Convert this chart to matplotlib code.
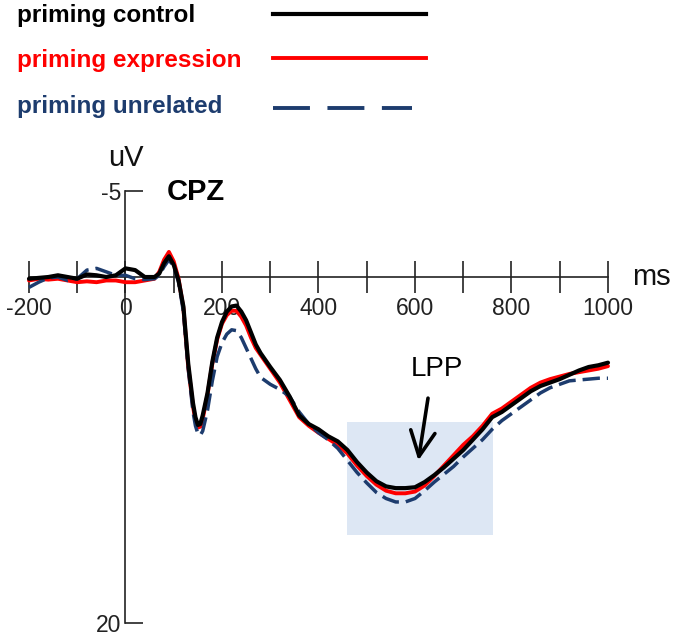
import matplotlib
matplotlib.use("Agg")
import matplotlib.pyplot as plt
from matplotlib.lines import Line2D
from matplotlib.patches import Rectangle

plt.rcParams['font.family'] = ['Liberation Sans', 'DejaVu Sans']

# time points (ms) and ERP amplitude (uV) at CPZ
waktu = [-200, -180, -160, -140, -120, -100, -80, -60, -40, -20, 0, 20, 40, 60, 70, 80, 90,
         100, 110, 120, 130, 140, 145, 150, 155, 160, 170, 180, 190, 200, 210, 220, 230, 240, 250,
         260, 270, 280, 290, 300, 320, 340, 360, 380, 400, 420, 440, 460, 480, 500, 520,
         540, 560, 580, 600, 620, 640, 660, 680, 700, 720, 740, 760, 780, 800, 820, 840,
         860, 880, 900, 920, 940, 960, 980, 1000]

control = [0.1, 0.05, 0.0, -0.1, 0.0, 0.1, -0.15, -0.1, 0.0, -0.1, -0.5, -0.4, 0.0, 0.0, -0.2, -0.8, -1.2,
           -0.7, 0.2, 1.7, 5.0, 7.3, 8.1, 8.55, 8.5, 8.0, 6.7, 4.9, 3.5, 2.6, 2.0, 1.7, 1.65, 2.0, 2.5,
           3.2, 3.9, 4.4, 4.8, 5.2, 5.95, 6.9, 8.0, 8.5, 8.8, 9.2, 9.5, 10.0, 10.7, 11.3, 11.8,
           12.1, 12.2, 12.2, 12.15, 11.85, 11.45, 11.0, 10.5, 10.0, 9.4, 8.8, 8.1, 7.8, 7.4, 7.0, 6.6,
           6.3, 6.1, 5.9, 5.65, 5.4, 5.2, 5.1, 4.95]

expression = [0.2, 0.1, 0.15, 0.1, 0.2, 0.3, 0.25, 0.3, 0.2, 0.2, 0.3, 0.3, 0.2, 0.1, -0.3, -1.0, -1.45,
              -0.9, 0.1, 1.8, 5.2, 7.5, 8.3, 8.7, 8.65, 8.2, 6.8, 5.0, 3.6, 2.7, 2.2, 1.95, 1.95, 2.3, 2.8,
              3.5, 4.1, 4.5, 4.9, 5.3, 6.1, 7.1, 8.1, 8.6, 9.0, 9.35, 9.7, 10.2, 10.9, 11.5, 12.0,
              12.35, 12.5, 12.5, 12.4, 12.05, 11.5, 10.9, 10.3, 9.7, 9.2, 8.6, 7.9, 7.6, 7.2, 6.8, 6.4,
              6.1, 5.9, 5.75, 5.6, 5.5, 5.4, 5.3, 5.15]

unrelated = [0.6, 0.3, 0.05, 0.0, 0.2, 0.1, -0.4, -0.5, -0.3, -0.1, -0.1, 0.1, 0.15, 0.1, -0.1, -0.6, -1.0,
             -0.6, 0.3, 2.0, 5.3, 7.8, 8.6, 9.05, 9.15, 8.9, 7.7, 6.0, 4.6, 3.8, 3.3, 3.05, 3.1, 3.5, 4.1,
             4.7, 5.3, 5.8, 6.0, 6.2, 6.5, 6.9, 7.8, 8.5, 9.0, 9.4, 9.9, 10.6, 11.3, 11.9, 12.45,
             12.8, 13.0, 13.0, 12.8, 12.35, 11.85, 11.4, 10.95, 10.4, 9.9, 9.4, 8.8, 8.3, 7.9, 7.5, 7.1,
             6.7, 6.4, 6.2, 6.0, 5.95, 5.9, 5.85, 5.85]

label_kondisi = ["priming control", "priming expression", "priming unrelated"]
warna = ["#000000", "#ff0000", "#1d3c6e"]

# LPP window (ms) and its amplitude range (uV)
lpp_waktu = [459, 762]
lpp_uv = [8.4, 14.9]

xticks = list(range(-200, 1001, 100))
xticklabels = [str(t) if t % 200 == 0 else "" for t in xticks]

fig = plt.figure(figsize=(6.75, 6.39), dpi=100)
ax = fig.add_axes([0, 0, 1, 1])
ax.patch.set_alpha(0)

# shaded LPP window
ax.add_patch(Rectangle((lpp_waktu[0], lpp_uv[0]), lpp_waktu[1] - lpp_waktu[0], lpp_uv[1] - lpp_uv[0],
                       facecolor="#dde7f4", edgecolor="none", zorder=0))

# waveforms (negative up, as usual for ERP)
ax.plot(waktu, expression, color=warna[1], lw=2.8, solid_capstyle='round', solid_joinstyle='round', zorder=3)
ax.plot(waktu, unrelated, color=warna[2], lw=2.5, dashes=(5.0, 2.0), zorder=3)
ax.plot(waktu, control, color=warna[0], lw=3.0, solid_capstyle='round', solid_joinstyle='round', zorder=4)

ax.set_xlim(-260.1, 1138.9)
ax.set_ylim(20.92, -16.01)

# axes crossing at (0, 0)
for s in ["top", "right"]:
    ax.spines[s].set_visible(False)
ax.spines["left"].set_position(("data", 0))
ax.spines["bottom"].set_position(("data", 0))
ax.spines["left"].set_bounds(-5, 20)
ax.spines["bottom"].set_bounds(-200, 1000)
for s in ["left", "bottom"]:
    ax.spines[s].set_linewidth(1.2)
    ax.spines[s].set_color("#222222")

ax.set_xticks(xticks)
ax.set_xticklabels(xticklabels)
ax.tick_params(axis='x', direction='inout', length=23, width=1.2, color="#222222",
               labelsize=16.5, labelcolor="#222222", pad=3)
ax.set_yticks([-5, 20])
ax.set_yticklabels(["-5", "20"])
ax.tick_params(axis='y', direction='in', length=13, width=1.2, color="#222222",
               labelsize=16.5, labelcolor="#222222", pad=3)

ax.text(1050, 0, "ms", fontsize=21, va='center', ha='left', color="#111111")
ax.text(0, -6.9, "uV", fontsize=21, va='center', ha='center', color="#111111")
ax.text(85, -4.9, "CPZ", fontsize=21, fontweight='bold', va='center', ha='left')

# LPP arrow and label
ax.annotate("", xy=(607, 10.6), xytext=(627, 7.0),
            arrowprops=dict(arrowstyle='->, head_length=0.45, head_width=0.22', lw=2.6,
                            color='black', mutation_scale=40, shrinkA=0, shrinkB=0))
ax.text(646, 5.3, "LPP", fontsize=20, ha='center', va='center')

# legend at top, drawn by hand like in the original
legend_y = [14, 58, 108]
baseline_y = [22, 67, 113]
for i in range(3):
    fig.text(17 / 675, 1 - baseline_y[i] / 639, label_kondisi[i], color=warna[i],
             fontsize=17.5, fontweight='bold', va='baseline', ha='left')
gaya = [dict(lw=3.0), dict(lw=2.8), dict(lw=2.8, dashes=(9.5, 4.5))]
for i in range(3):
    x_akhir = 426 if i < 2 else 412
    fig.add_artist(Line2D([273 / 675, x_akhir / 675], [1 - legend_y[i] / 639] * 2,
                          color=warna[i], transform=fig.transFigure, **gaya[i]))

fig.savefig("out.png", dpi=100)
